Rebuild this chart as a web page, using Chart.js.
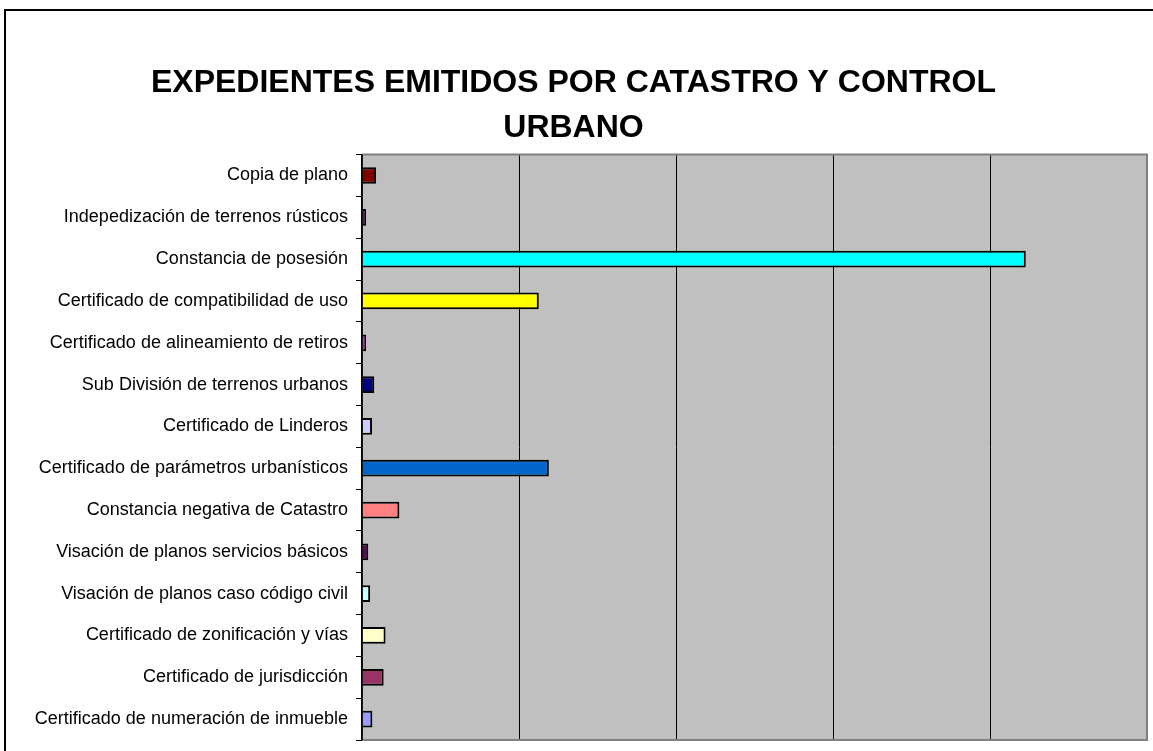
<!DOCTYPE html>
<html>
<head>
<meta charset="utf-8">
<script src="https://cdn.jsdelivr.net/npm/chart.js@4"></script>
<style>
  html, body { margin: 0; padding: 0; background: #fff; }
  #wrap { width: 1153px; height: 751px; }
</style>
</head>
<body>
<div id="wrap"><canvas id="chart"></canvas></div>
<script>
const categorias = [
  'Copia de plano',
  'Indepedización de terrenos rústicos',
  'Constancia de posesión',
  'Certificado de compatibilidad de uso',
  'Certificado de alineamiento de retiros',
  'Sub División de terrenos urbanos',
  'Certificado de Linderos',
  'Certificado de parámetros urbanísticos',
  'Constancia negativa de Catastro',
  'Visación de planos servicios básicos',
  'Visación de planos caso código civil',
  'Certificado de zonificación y vías',
  'Certificado de jurisdicción',
  'Certificado de numeración de inmueble'
];
const expedientes = [45, 13, 2114, 563, 13, 39, 32, 595, 119, 20, 26, 75, 69, 33];
const coloresBarra = [
  '#800000', '#800080', '#00FFFF', '#FFFF00', '#FF00FF', '#000080', '#CCCCFF',
  '#0066CC', '#FF8080', '#660066', '#CCFFFF', '#FFFFCC', '#993366', '#9999FF'
];
const tituloLineas = ['EXPEDIENTES EMITIDOS POR CATASTRO Y CONTROL', 'URBANO'];
const ejeMax = 2500;
const ejePaso = 500;

// fondo gris del area de trazado y marco exterior
const fondo = {
  id: 'fondo',
  beforeDraw(chart) {
    const { ctx, chartArea: a } = chart;
    ctx.save();
    ctx.strokeStyle = '#000';
    ctx.lineWidth = 2;
    ctx.strokeRect(5, 10, 1200, 800);
    ctx.fillStyle = '#C0C0C0';
    ctx.fillRect(a.left, a.top, a.right - a.left, a.bottom - a.top);
    ctx.restore();
  },
  afterDraw(chart) {
    const { ctx, chartArea: a } = chart;
    ctx.save();
    ctx.strokeStyle = '#808080';
    ctx.lineWidth = 2;
    ctx.beginPath();
    ctx.moveTo(a.left, a.top);
    ctx.lineTo(a.right, a.top);
    ctx.lineTo(a.right, a.bottom);
    ctx.lineTo(a.left, a.bottom);
    ctx.stroke();
    ctx.strokeStyle = '#000';
    ctx.lineWidth = 1.5;
    ctx.beginPath();
    ctx.moveTo(a.left, a.top);
    ctx.lineTo(a.left, a.bottom);
    ctx.stroke();
    ctx.restore();
  }
};

new Chart(document.getElementById('chart'), {
  type: 'bar',
  data: {
    labels: categorias,
    datasets: [{
      data: expedientes,
      backgroundColor: coloresBarra,
      borderColor: '#000',
      borderWidth: 2,
      borderSkipped: 'start',
      barPercentage: 0.4,
      categoryPercentage: 1
    }]
  },
  options: {
    indexAxis: 'y',
    responsive: true,
    maintainAspectRatio: false,
    animation: false,
    layout: { padding: { left: 0, right: 6, top: 0, bottom: 0 } },
    plugins: {
      legend: { display: false },
      tooltip: { enabled: false },
      title: {
        display: true,
        text: tituloLineas,
        color: '#000',
        font: { family: 'Liberation Sans', size: 32, weight: 'bold', lineHeight: 1.4 },
        padding: { top: 61, bottom: 4 }
      }
    },
    scales: {
      x: {
        min: 0,
        max: ejeMax,
        ticks: { display: false, stepSize: ejePaso },
        border: { display: false },
        grid: {
          color: ctx => (ctx.tick.value === 0 || ctx.tick.value === ejeMax) ? 'rgba(0,0,0,0)' : '#000',
          lineWidth: 1,
          drawTicks: false
        },
        afterFit(scale) { scale.height = 11; }
      },
      y: {
        ticks: {
          color: '#000',
          padding: 8,
          font: { family: 'Liberation Sans', size: 18 }
        },
        border: { color: '#000', width: 1.5 },
        grid: {
          drawOnChartArea: false,
          drawTicks: true,
          tickLength: 6,
          color: '#000'
        },
        afterFit(scale) {
          scale.width = 362;
          scale.paddingTop = 0;
          scale.paddingBottom = 0;
        }
      }
    }
  },
  plugins: [fondo]
});
</script>
</body>
</html>
